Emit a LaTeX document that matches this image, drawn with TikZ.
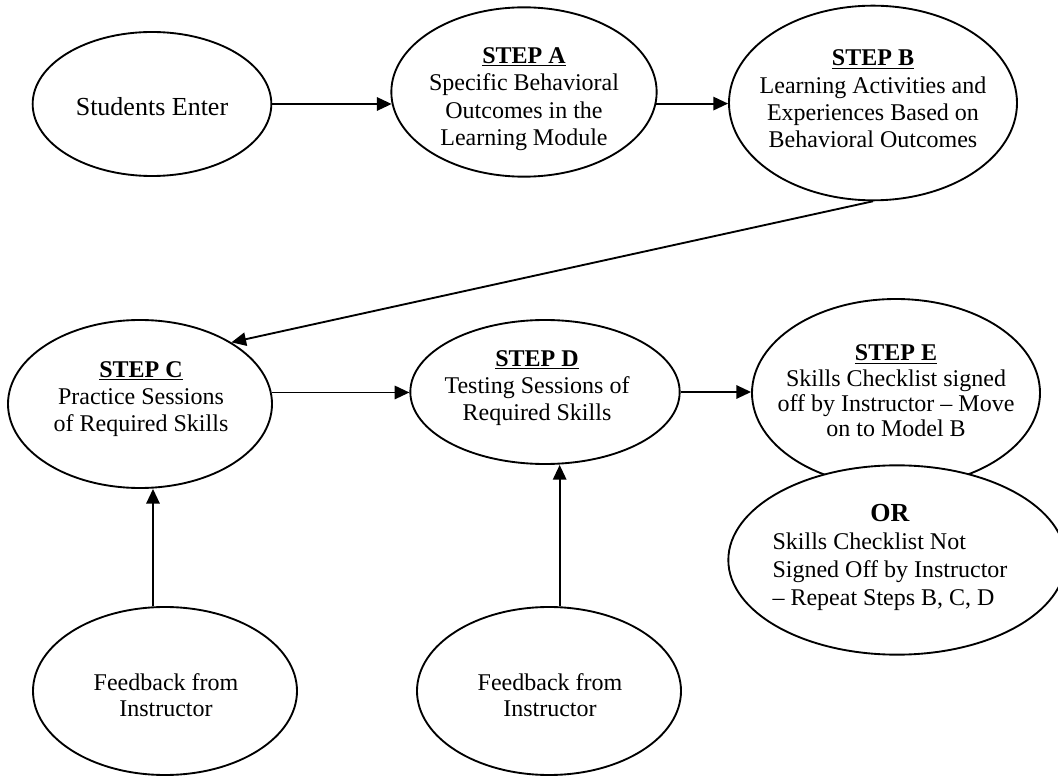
\documentclass[tikz,border=0pt]{standalone}
\usepackage{fontspec}
\setmainfont{Liberation Serif}
\usetikzlibrary{shapes.geometric,arrows.meta}

\tikzset{every picture/.style={line width=1.4pt}}
\tikzset{
	oval/.style={draw, ellipse, fill=white, inner sep=0pt},
	txt/.style={align=center, inner sep=0pt, font=\fontsize{18}{20.5}\selectfont},
	arr/.style={-{Triangle[length=11pt,width=10pt]}}
}
\newcommand{\steptitle}[1]{\textbf{\underline{#1}}}

\begin{document}
\begin{tikzpicture}[x=0.75pt,y=0.75pt,yscale=-1,xscale=1]
	\useasboundingbox (0,0) rectangle (1058,777);

	%Shape: Ellipse [Students Enter]
	\node[oval, minimum width=179pt, minimum height=108pt] (enter) at (152,104) {};
	%Shape: Ellipse [Step A]
	\node[oval, minimum width=199pt, minimum height=127pt] (stepA) at (524,92) {};
	%Shape: Ellipse [Step B]
	\node[oval, minimum width=216pt, minimum height=146pt] (stepB) at (873,103) {};
	%Shape: Ellipse [Step C]
	\node[oval, minimum width=198pt, minimum height=126pt] (stepC) at (140,404) {};
	%Shape: Ellipse [Step D]
	\node[oval, minimum width=202pt, minimum height=108pt] (stepD) at (545,392) {};
	%Shape: Ellipse [Step E]
	\node[oval, minimum width=216pt, minimum height=141pt] (stepE) at (896,393) {};
	%Shape: Ellipse [Or]
	\node[oval, minimum width=253pt, minimum height=142pt] (orE) at (897,560) {};
	%Shape: Ellipse [Feedback]
	\node[oval, minimum width=198pt, minimum height=126pt] (fbC) at (165,691) {};
	%Shape: Ellipse [Feedback]
	\node[oval, minimum width=198pt, minimum height=126pt] (fbD) at (549,691) {};

	%Straight Lines
	\draw[arr] (enter.east) -- (enter.east -| stepA.185);
	\draw[arr] (stepA.-5) -- (stepA.-5 -| stepB.west);
	\draw[arr] (stepB.south) -- (stepC.34);
	\draw[arr] (stepC.5) -- (stepC.5 -| stepD.west);
	\draw[arr] (stepD.east) -- (stepD.east -| stepE.west);
	\draw[arr] ([xshift=-9pt]fbC.north) -- ([xshift=-9pt]fbC.north |- stepC.south);
	\draw[arr] ([xshift=8pt]fbD.north) -- ([xshift=8pt]fbD.north |- stepD.south);

	% Text Node
	\node[txt, font=\fontsize{19.5}{20.5}\selectfont] (enterT) at (152,107) {Students Enter};
	% Text Node
	\node[txt] (stepAT) at (524,99) {\steptitle{STEP A}\\Specific Behavioral\\Outcomes in the\\Learning Module};
	% Text Node
	\node[txt] (stepBT) at (873,99) {\steptitle{STEP B}\\Learning Activities and\\Experiences Based on\\Behavioral Outcomes};
	% Text Node
	\node[txt] (stepCT) at (141,399) {\steptitle{STEP C}\\Practice Sessions\\of Required Skills};
	% Text Node
	\node[txt] (stepDT) at (537,388) {\steptitle{STEP D}\\Testing Sessions of\\Required Skills};
	% Text Node
	\node[txt, font=\fontsize{18}{19}\selectfont] (stepET) at (896,391) {\steptitle{STEP E}\\Skills Checklist signed\\off by Instructor -- Move\\on to Model B};
	% Text Node
	\node[txt, font=\fontsize{18}{21}\selectfont] (orT) at (890,558) {\begin{tabular}{@{}l@{}}\multicolumn{1}{c}{\fontsize{19.5}{21}\selectfont\textbf{OR}}\\Skills Checklist Not\\Signed Off by Instructor\\-- Repeat Steps B, C, D\end{tabular}};
	% Text Node
	\node[txt, font=\fontsize{18}{19.5}\selectfont] (fbCT) at (166,695) {Feedback from\\Instructor};
	% Text Node
	\node[txt, font=\fontsize{18}{19.5}\selectfont] (fbDT) at (550,695) {Feedback from\\Instructor};

\end{tikzpicture}
\end{document}
